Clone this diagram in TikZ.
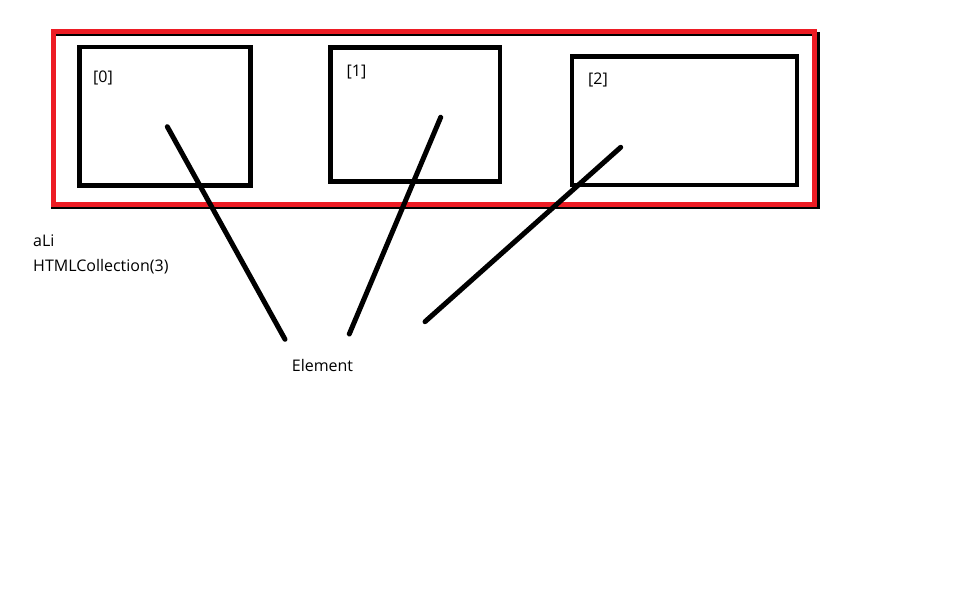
\documentclass[tikz,border=0pt]{standalone}
\usepackage{fontspec}
\setmainfont{Open Sans}
\definecolor{paintred}{RGB}{237,28,36}
\tikzset{box/.style={draw=black, line width=4.5pt, inner sep=0pt, minimum width=#1},
  wire/.style={line width=5pt, line cap=round},
  lbl/.style={inner sep=0pt}}
\begin{document}
\begin{tikzpicture}[x=1pt, y=-1pt, font=\fontsize{16}{19}\selectfont, line join=miter]
\useasboundingbox (0,0) rectangle (958,594);
% outer frame
\draw[line width=4pt] (52.5,34) rectangle (818,206.5);
\draw[draw=paintred, line width=5pt] (53,31.5) rectangle (814.5,204.5);
% boxes of the collection
\foreach \n/\cx/\cy/\w/\h in {0/165/116.25/171/138.5, 1/415.25/114.5/169.5/134, 2/684.5/120.75/225/128.5}{
  \node[box=\w pt, minimum height=\h pt] (b\n) at (\cx,\cy) {};
}
\foreach \n/\x/\y in {0/103/77.5, 1/356.5/72, 2/598/79.5}{
  \node[lbl] (l\n) at (\x,\y) {[\n]};
}
% wires down to the element label
\foreach \n/\x/\y/\u/\v in {0/167.3/126.7/285/339.3, 1/440.7/117.3/349.3/334, 2/620.7/147.3/425/321.7}{
  \coordinate (p\n) at (\x,\y);
  \coordinate (q\n) at (\u,\v);
  \draw[wire] (p\n) -- (q\n);
}
\node[lbl] (el) at (322.5,365.5) {Element};
\node[lbl, anchor=west] (ali) at (33,241) {aLi};
\node[lbl, anchor=west] (hc) at (33,266.5) {HTMLCollection(3)};
\end{tikzpicture}
\end{document}
